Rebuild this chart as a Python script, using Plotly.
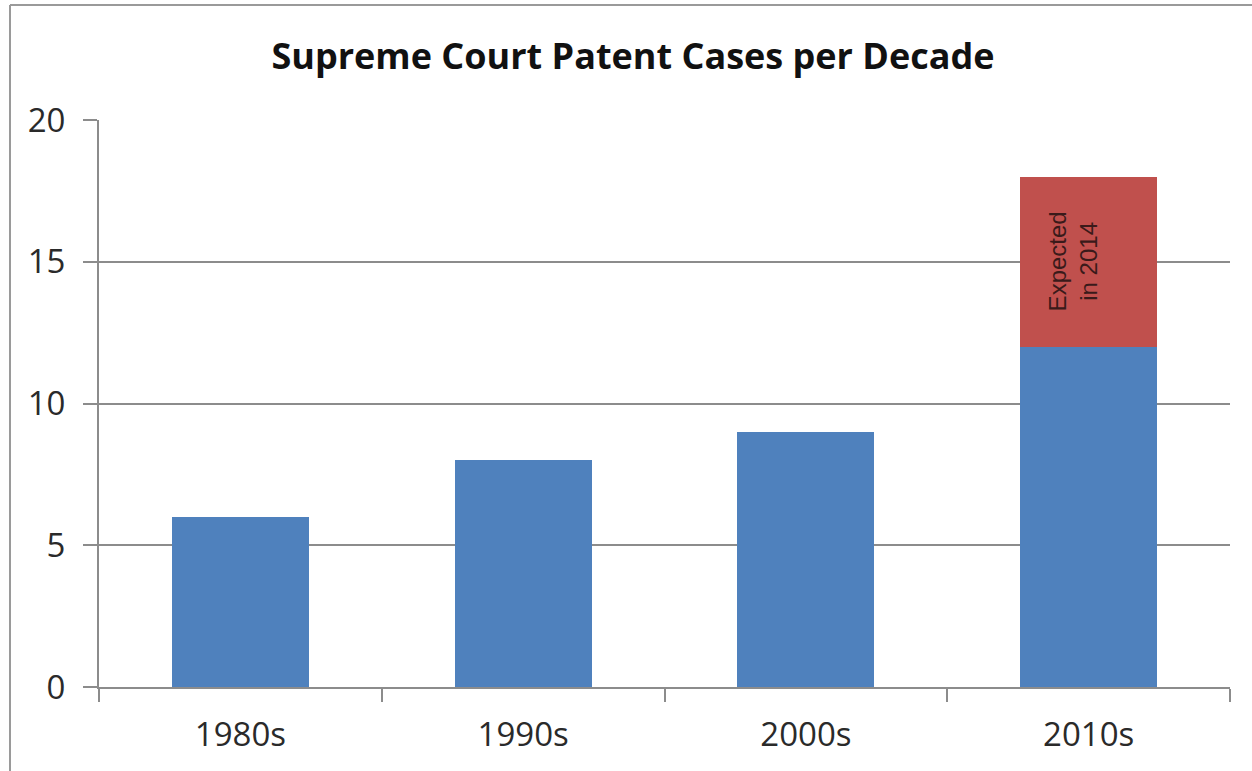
import plotly.graph_objects as go

decades = ["1980s", "1990s", "2000s", "2010s"]
decided = [6, 8, 9, 12]
expected = [0, 0, 0, 6]
y_ticks = [0, 5, 10, 15, 20]

W, H = 1252, 771
L, R, T, B = 99, 22, 120, 84

fig = go.Figure()
fig.add_bar(x=decades, y=decided, marker=dict(color="#4F81BD", line=dict(width=0)), name="Decided")
fig.add_bar(x=decades, y=expected, marker=dict(color="#C0504D", line=dict(width=0)), name="Expected")

pw = W - L - R
ph = H - T - B

def px_x(p):
    return (p - L) / pw

def px_y(p):
    return (H - B - p) / ph

fig.update_layout(
    width=W, height=H,
    barmode="stack",
    bargap=0.515,
    showlegend=False,
    plot_bgcolor="white",
    paper_bgcolor="white",
    margin=dict(l=L, r=R, t=T, b=B, pad=0),
    font=dict(family="Open Sans, Liberation Sans, sans-serif", color="#333333"),
    title=dict(
        text="<b>Supreme Court Patent Cases per Decade</b>",
        x=(633) / W, xanchor="center",
        y=1 - 56 / H, yanchor="middle",
        font=dict(size=36, color="#111111", family="Open Sans, Liberation Sans, sans-serif"),
    ),
    xaxis=dict(
        showgrid=False,
        showline=True, linecolor="#8c8c8c", linewidth=2,
        ticks="outside", tickson="boundaries", ticklen=13, tickcolor="#8c8c8c", tickwidth=2,
        tickfont=dict(size=33, color="#2a2a2a"),
        ticklabelstandoff=17,
    ),
    yaxis=dict(
        range=[0, 20],
        tickvals=y_ticks,
        showgrid=True, gridcolor="#8c8c8c", gridwidth=1.5,
        showline=True, linecolor="#8c8c8c", linewidth=2,
        ticks="outside", ticklen=14, tickcolor="#8c8c8c", tickwidth=1.5,
        tickfont=dict(size=33, color="#2a2a2a"),
        ticklabelstandoff=11,
        zeroline=False,
    ),
    annotations=[
        dict(
            x="2010s", y=15, xref="x", yref="y",
            text="Expected<br>in 2014", textangle=-90,
            showarrow=False, xshift=-16,
            font=dict(size=24, color="#3a1a1a", family="Liberation Sans, Arial, sans-serif"),
        )
    ],
    shapes=[
        dict(type="line", xref="paper", yref="paper",
             x0=px_x(10), x1=px_x(10), y0=px_y(5), y1=px_y(771),
             line=dict(color="#9a9a9a", width=2)),
        dict(type="line", xref="paper", yref="paper",
             x0=px_x(10), x1=px_x(1252), y0=px_y(5), y1=px_y(5),
             line=dict(color="#9a9a9a", width=2)),
    ],
)

fig.write_html("out.html")
